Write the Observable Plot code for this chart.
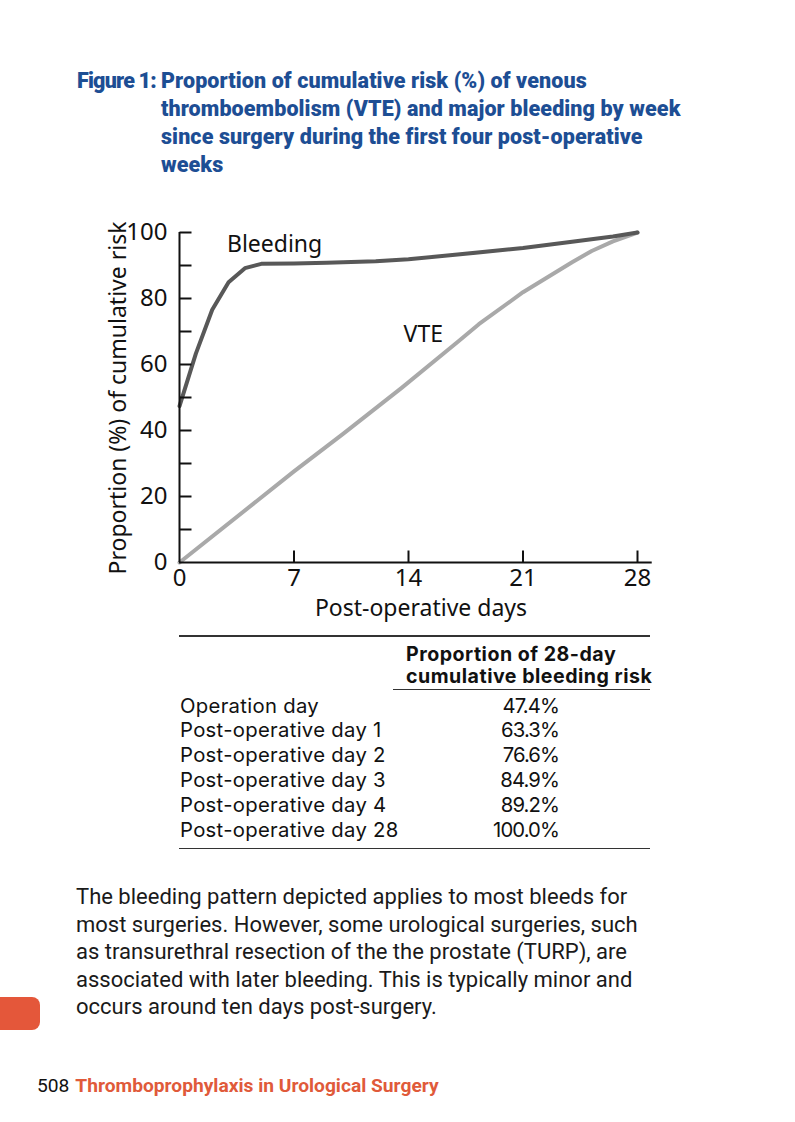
<!DOCTYPE html>
<html>
<head>
<meta charset="utf-8">
<script src="https://cdn.jsdelivr.net/npm/d3@7"></script>
<script src="https://cdn.jsdelivr.net/npm/@observablehq/plot@0.6"></script>
<style>
  html, body { margin: 0; padding: 0; background: #fff; }
  body { width: 795px; height: 1122px; position: relative; overflow: hidden; font-family: "Noto Sans", sans-serif; color: #111; }
  .abs { position: absolute; white-space: nowrap; }
  #title { left: 77px; top: 67px; font-family: Roboto, sans-serif; font-weight: 900; font-size: 21.5px; line-height: 28px; color: #1d4e94; letter-spacing: 0.1px; display: flex; }
  #title .fig { width: 84px; letter-spacing: -0.8px; }
  #chart { left: 0; top: 200px; }
  .axtitle { font-family: "Noto Sans", sans-serif; font-size: 23px; color: #111; }
  .rule { position: absolute; height: 1.5px; background: #333; }
  .tbl { font-family: Inter, "Noto Sans", sans-serif; font-size: 20.3px; color: #111; letter-spacing: 0.3px; }
  #para { left: 76px; top: 883px; font-family: Roboto, sans-serif; font-size: 22px; line-height: 27.5px; color: #1a1a1a; letter-spacing: 0; }
  #tab { left: 0; top: 997px; width: 40px; height: 33px; background: #e4573a; border-radius: 0 8px 8px 0; }
  #footer { left: 37px; top: 1074px; font-family: Roboto, sans-serif; font-size: 19.2px; line-height: 24px; letter-spacing: 0; }
  #footer .red { color: #e05a3a; font-weight: 700; margin-left: 6px; }
</style>
</head>
<body>
<script>
// ---- Data ----
const bleedDays   = [0, 1, 2, 3, 4, 5, 7, 9, 12, 14, 17, 21, 24, 26.5, 28];
const bleedValues = [47.4, 63.3, 76.6, 84.9, 89.2, 90.5, 90.6, 90.8, 91.3, 91.9, 93.3, 95.3, 97.2, 98.8, 100];
const vteDays     = [0, 7, 10, 13.6, 17, 18.3, 21, 24, 25.2, 26.5, 28];
const vteValues   = [0, 27.6, 39, 53, 66.8, 72.2, 81.9, 91, 94.4, 97.3, 100];
const xTicks      = [0, 7, 14, 21, 28];
const yLabelTicks = [0, 20, 40, 60, 80, 100];
const yTickMarks  = [10, 20, 30, 40, 50, 60, 70, 80, 90, 100];
const seriesNames = ["Bleeding", "VTE"];
const labelDays   = [2.9, 13.7];
const labelValues = [96.2, 69.2];
const tableHeader = ["Proportion of 28-day", "cumulative bleeding risk"];
const tableLabels = ["Operation day", "Post-operative day 1", "Post-operative day 2", "Post-operative day 3", "Post-operative day 4", "Post-operative day 28"];
const tableValues = ["47.4%", "63.3%", "76.6%", "84.9%", "89.2%", "100.0%"];

const bleed = bleedDays.map((d, i) => ({day: d, value: bleedValues[i]}));
const vte = vteDays.map((d, i) => ({day: d, value: vteValues[i]}));
const labels = seriesNames.map((s, i) => ({name: s, day: labelDays[i], value: labelValues[i]}));

const tickRight = {draw(ctx) { ctx.moveTo(0, 0); ctx.lineTo(12, 0); }};
const tickUp = {draw(ctx) { ctx.moveTo(0, 0); ctx.lineTo(0, -12); }};

const plot = Plot.plot({
  width: 795, height: 422,
  marginLeft: 179, marginRight: 158, marginTop: 32, marginBottom: 60,
  x: {domain: [0, 28]},
  y: {domain: [0, 100]},
  style: {fontFamily: "'Noto Sans', sans-serif", fontSize: "24px", color: "#111", background: "transparent", overflow: "visible"},
  marks: [
    Plot.axisX(xTicks, {tickSize: 0, tickPadding: 6, label: null, fontSize: 24}),
    Plot.axisY(yLabelTicks, {tickSize: 0, tickPadding: 12, label: null, fontSize: 24}),
    Plot.line(vte, {x: "day", y: "value", stroke: "#a9a9a9", strokeWidth: 4}),
    Plot.line(bleed, {x: "day", y: "value", stroke: "#585858", strokeWidth: 4}),
    Plot.ruleX([0], {y1: 0, y2: 100, stroke: "#111", strokeWidth: 2}),
    Plot.ruleY([0], {x1: 0, x2: 28.9, stroke: "#111", strokeWidth: 2}),
    Plot.dot(yTickMarks, {x: 0, y: d => d, symbol: tickRight, fill: "none", stroke: "#111", strokeWidth: 2, r: 3}),
    Plot.dot(xTicks.filter(d => d > 0), {x: d => d, y: 0, symbol: tickUp, fill: "none", stroke: "#111", strokeWidth: 2, r: 3}),
    Plot.text(labels, {x: "day", y: "value", text: "name", textAnchor: "start", fontSize: 23, fill: "#111"})
  ]
});

// ---- Layout ----
function el(tag, cls, style, html) {
  const e = document.createElement(tag);
  if (cls) e.className = cls;
  if (style) e.setAttribute("style", style);
  if (html != null) e.innerHTML = html;
  document.body.appendChild(e);
  return e;
}

el("div", "abs", "", "").id = "title";
const title = document.getElementById("title");
title.innerHTML = '<div class="fig">Figure 1:</div><div>Proportion of cumulative risk (%) of venous<br>thromboembolism (VTE) and major bleeding by week<br>since surgery during the first four post-operative<br>weeks</div>';

const chartDiv = el("div", "abs", "");
chartDiv.id = "chart";
chartDiv.appendChild(plot);

el("div", "abs axtitle", "left:117px;top:398px;transform:translate(-50%,-50%) rotate(-90deg);line-height:26px;", "Proportion (%) of cumulative risk");
el("div", "abs axtitle", "left:421px;top:607px;transform:translate(-50%,-50%);line-height:26px;", "Post-operative days");

// table
el("div", "rule", "left:179px;top:635px;width:471px;");
el("div", "abs tbl", "left:406px;top:643px;line-height:22px;font-weight:700;font-size:19.6px;letter-spacing:0.5px;", tableHeader.join("<br>"));
el("div", "rule", "left:393px;top:688.5px;width:257px;");
tableLabels.forEach((lab, i) => {
  const top = 693.6 + i * 24.8;
  el("div", "abs tbl", `left:180px;top:${top}px;line-height:24.8px;`, lab);
  el("div", "abs tbl", `left:400px;width:159px;text-align:right;top:${top}px;line-height:24.8px;letter-spacing:-0.9px;`, tableValues[i]);
});
el("div", "rule", "left:179px;top:847.5px;width:471px;");

el("div", "abs", "", "The bleeding pattern depicted applies to most bleeds for<br>most surgeries. However, some urological surgeries, such<br>as transurethral resection of the the prostate (TURP), are<br>associated with later bleeding. This is typically minor and<br>occurs around ten days post-surgery.").id = "para";
el("div", "abs", "").id = "tab";
el("div", "abs", "", '508<span class="red">Thromboprophylaxis in Urological Surgery</span>').id = "footer";
</script>
</body>
</html>
